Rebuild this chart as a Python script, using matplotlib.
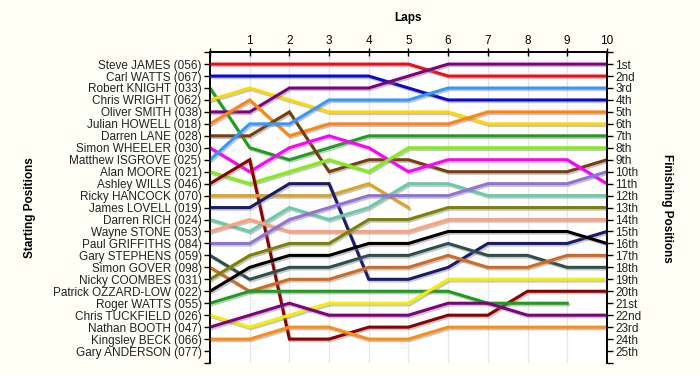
import matplotlib
matplotlib.use('Agg')
import matplotlib.pyplot as plt
import matplotlib.patheffects as pe

plt.rcParams['font.family'] = ['Liberation Sans', 'DejaVu Sans']

laps = list(range(11))

drivers = ['Steve JAMES (056)', 'Carl WATTS (067)', 'Robert KNIGHT (033)', 'Chris WRIGHT (062)',
           'Oliver SMITH (038)', 'Julian HOWELL (018)', 'Darren LANE (028)', 'Simon WHEELER (030)',
           'Matthew ISGROVE (025)', 'Alan MOORE (021)', 'Ashley WILLS (046)', 'Ricky HANCOCK (070)',
           'James LOVELL (019)', 'Darren RICH (024)', 'Wayne STONE (053)', 'Paul GRIFFITHS (084)',
           'Gary STEPHENS (059)', 'Simon GOVER (098)', 'Nicky COOMBES (031)', 'Patrick OZZARD-LOW (022)',
           'Roger WATTS (055)', 'Chris TUCKFIELD (026)', 'Nathan BOOTH (047)', 'Kingsley BECK (066)',
           'Gary ANDERSON (077)']

finish_labels = ['1st', '2nd', '3rd', '4th', '5th', '6th', '7th', '8th', '9th', '10th',
                 '11th', '12th', '13th', '14th', '15th', '16th', '17th', '18th', '19th', '20th',
                 '21st', '22nd', '23rd', '24th', '25th']

# position of each driver at the end of every lap (lap 0 = grid), shorter list = retired
positions = [
    [1, 1, 1, 1, 1, 1, 2, 2, 2, 2, 2],
    [2, 2, 2, 2, 2, 3, 4, 4, 4, 4, 4],
    [3, 8, 9, 8, 7, 7, 7, 7, 7, 7, 7],
    [4, 3, 4, 5, 5, 5, 5, 6, 6, 6, 6],
    [5, 5, 3, 3, 3, 2, 1, 1, 1, 1, 1],
    [6, 4, 7, 6, 6, 6, 6, 5, 5, 5, 5],
    [7, 7, 5, 10, 9, 9, 10, 10, 10, 10, 9],
    [8, 10, 8, 7, 8, 10, 9, 9, 9, 9, 11],
    [9, 6, 6, 4, 4, 4, 3, 3, 3, 3, 3],
    [10, 11, 10, 9, 10, 8, 8, 8, 8, 8, 8],
    [11, 9, 24, 24, 23, 23, 22, 22, 20, 20, 20],
    [12, 12, 12, 12, 11, 13],
    [13, 13, 11, 11, 19, 19, 18, 16, 16, 16, 15],
    [14, 15, 13, 14, 13, 11, 11, 12, 12, 12, 12],
    [15, 14, 15, 15, 15, 15, 14, 14, 14, 14, 14],
    [16, 16, 14, 13, 12, 12, 12, 11, 11, 11, 10],
    [17, 19, 18, 18, 17, 17, 16, 17, 17, 18, 18],
    [18, 20, 19, 19, 18, 18, 17, 18, 18, 17, 17],
    [19, 17, 16, 16, 14, 14, 13, 13, 13, 13, 13],
    [20, 18, 17, 17, 16, 16, 15, 15, 15, 15, 16],
    [21, 20, 20, 20, 20, 20, 20, 21, 21, 21],
    [22, 23, 22, 21, 21, 21, 19, 19, 19, 19, 19],
    [23, 22, 21, 22, 22, 22, 21, 21, 22, 22, 22],
    [24, 24, 23, 23, 24, 24, 23, 23, 23, 23, 23],
    [],
]

colors = ['#E8101A', '#0A0ACD', '#1E9E1E', '#FFD700', '#800080', '#FF8411', '#7A3E0A', '#FF00FF',
          '#3399FF', '#80F010', '#8B0000', '#DAA520', '#1A1A6E', '#66CDAA', '#FFA07A', '#9370DB',
          '#2F4F4F', '#D2691E', '#808000', '#000000', '#18A018', '#F8EC00', '#800080', '#FF8C11',
          '#888888']

fig = plt.figure(figsize=(7, 3.75), dpi=100, facecolor='#FFFFF5')
ax = fig.add_axes([0.3, 0.032, 0.567, 0.829])
ax.set_facecolor('white')

shadow = [pe.SimpleLineShadow(offset=(1, -1.2), shadow_color='#808080', alpha=0.45), pe.Normal()]
for pos, col in zip(positions, colors):
    if len(pos) == 0:
        continue
    ax.plot(laps[:len(pos)], pos, color=col, lw=2.2, solid_joinstyle='miter',
            path_effects=shadow, zorder=3)

ax.set_xlim(0, 10)
ax.set_ylim(26, 0)

# top axis with lap numbers
ax.xaxis.tick_top()
ax.set_xticks(laps)
ax.set_xticklabels([''] + [str(l) for l in laps[1:]])
ax.tick_params(axis='x', direction='inout', length=6, width=1, pad=1, labelsize=8.5)

ax.set_yticks(range(0, 27))
ax.set_yticklabels([''] + drivers + [''])
ax.tick_params(axis='y', direction='out', length=4.5, width=1, pad=1.5, labelsize=8.5,
               labelcolor='#202028')

ax2 = ax.twinx()
ax2.set_ylim(26, 0)
ax2.set_yticks(range(0, 27))
ax2.set_yticklabels([''] + finish_labels + [''])
ax2.tick_params(axis='y', direction='out', length=4.5, width=1, pad=1.5, labelsize=8.5,
                labelcolor='#202028')

for a in (ax, ax2):
    a.spines['bottom'].set_visible(False)
    for s in ('top', 'left', 'right'):
        a.spines[s].set_linewidth(1.2)

ax.set_yticks(range(1, 26), minor=True)
ax.grid(True, which='major', axis='x', color='#E6E6E6', lw=0.9, zorder=0)
ax.grid(True, which='minor', axis='y', color='#E6E6E6', lw=0.9, zorder=0)
ax.tick_params(axis='y', which='minor', length=0)
ax.set_axisbelow(True)

fig.text(408 / 700, 1 - 18 / 375, 'Laps', ha='center', va='center', fontsize=8.5, weight='bold')
fig.text(30 / 700, 1 - 208 / 375, 'Starting Positions', ha='center', va='center',
         rotation=90, fontsize=8.5, weight='bold')
fig.text(667 / 700, 1 - 208 / 375, 'Finishing Positions', ha='center', va='center',
         rotation=270, fontsize=8.5, weight='bold')

fig.savefig('out.png', dpi=100, facecolor=fig.get_facecolor())
